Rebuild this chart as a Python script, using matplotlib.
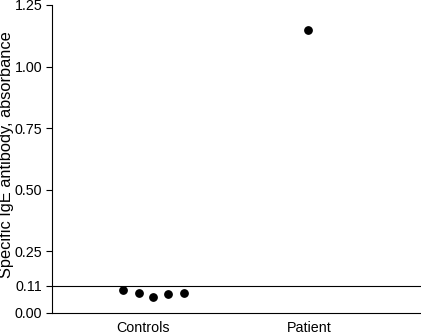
import matplotlib
matplotlib.use("Agg")
import matplotlib.pyplot as plt

plt.rcParams['font.family'] = ['Liberation Sans', 'DejaVu Sans']

categories = ["Controls", "Patient"]
control_values = [0.093, 0.081, 0.064, 0.078, 0.082]
control_offsets = [-0.19, -0.09, 0.0, 0.095, 0.2]
patient_values = [1.149]
cutoff = 0.11
yticks = [0.00, 0.11, 0.25, 0.50, 0.75, 1.00, 1.25]
ytick_labels = ["0.00", "0.11", "0.25", "0.50", "0.75", "1.00", "1.25"]

fig = plt.figure(figsize=(4.21, 3.35), dpi=100)
ax = fig.add_axes([52/421, 22/335, 1 - 52/421, 308/335])

ax.scatter([1 + o for o in control_offsets], control_values, s=28, color='black', zorder=3)
ax.scatter([2] * len(patient_values), patient_values, s=28, color='black', zorder=3)
ax.axhline(cutoff, color='black', lw=0.8)

ax.set_xlim(0.35, 2.73)
ax.set_ylim(0, 1.25)
ax.set_yticks(yticks)
ax.set_yticklabels(ytick_labels, fontsize=10.3)
ax.set_xticks([0.94, 2.01])
ax.set_xticklabels(categories, fontsize=10.3)
ax.tick_params(axis='x', length=0, pad=6)
ax.tick_params(axis='y', length=4, width=0.8, pad=3)
ax.set_ylabel("Specific IgE antibody, absorbance", fontsize=11.8)
ax.yaxis.set_label_coords(-0.103, 0.513)
for s in ['top', 'right']:
    ax.spines[s].set_visible(False)
for s in ['left', 'bottom']:
    ax.spines[s].set_linewidth(0.8)

fig.savefig("out.png", dpi=100)
